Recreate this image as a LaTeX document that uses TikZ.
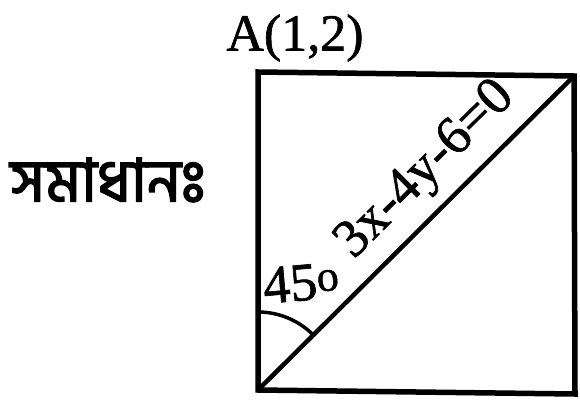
\documentclass[tikz,border=0pt]{standalone}
\usepackage{fontspec}
\setmainfont{Liberation Serif}[FakeBold=1.5]
\newfontfamily\heavy{Liberation Serif}[FakeBold=1.2]
\newfontfamily\bengfont[Script=Bengali,FakeBold=2.5]{Hind Siliguri}
\begin{document}
\begin{tikzpicture}[x=1pt,y=1pt,
  edge/.style={line width=5.5pt, line join=miter},
  diag/.style={line width=4.5pt},
  lbl/.style={inner sep=0pt, font=\heavy\fontsize{54}{54}\selectfont}]
\useasboundingbox (0,0) rectangle (580,408);
\coordinate (BL) at (258,18);
\coordinate (TL) at (258,336);
\coordinate (TR) at (574,332);
\coordinate (BR) at (575,14);
\draw[edge] (BL) -- (TL) -- (TR) -- (BR) -- cycle;
\draw[diag] (BL) -- (TR) node[pos=0.615, sloped, above=11pt, lbl] (eq) {3x-4y-6=0};
\draw[line width=3.5pt] ([shift={(90:78)}]BL) arc[start angle=90, end angle=44.8, radius=78];
\node[lbl, rotate=5] (ang) at (301,125) {45\raisebox{0.3ex}{\fontsize{44}{44}\selectfont o}};
\node[lbl, font=\heavy\fontsize{52}{52}\selectfont] (A) at (295,370) {A(1,2)};
\node[inner sep=0pt, font=\bengfont\fontsize{60}{60}\selectfont] (sol) at (108,228) {সমাধানঃ};
\end{tikzpicture}
\end{document}
